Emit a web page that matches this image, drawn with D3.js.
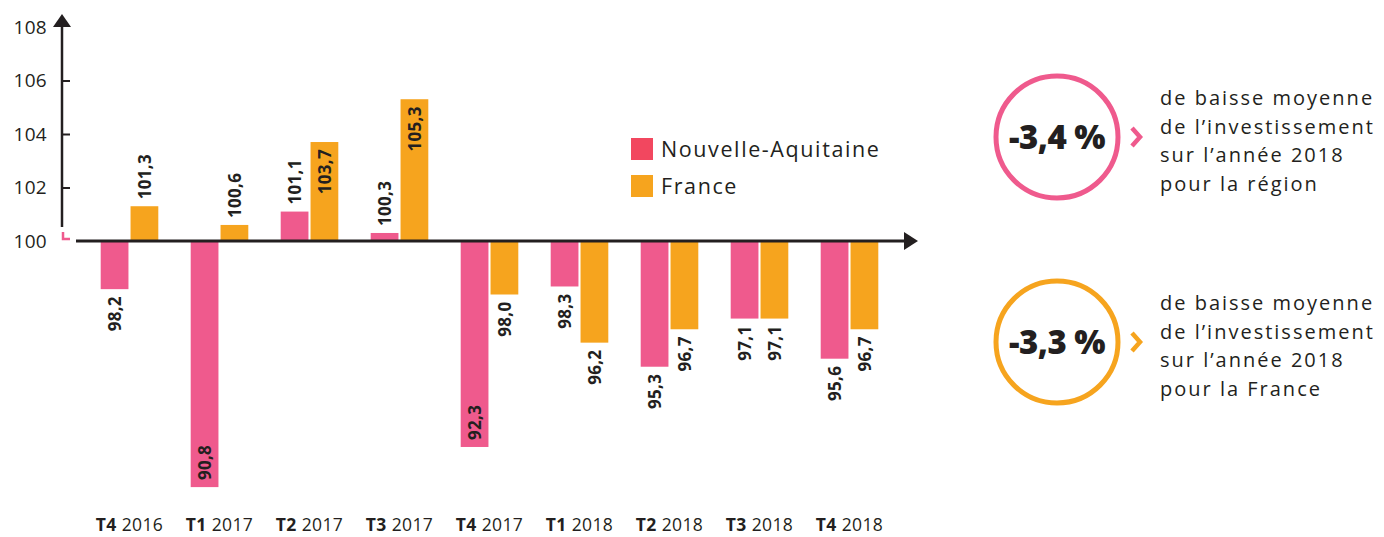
<!DOCTYPE html>
<html>
<head>
<meta http-equiv="content-type" content="text/html; charset=UTF8">
<title>Investissement</title>
<style type="text/css">
body { margin: 0; padding: 0; background: #fff; overflow: hidden; font-family: "Open Sans", Lato, sans-serif; }
</style>
</head>
<body>
<div id="chart"></div>
<script src="https://cdnjs.cloudflare.com/ajax/libs/d3/7.8.5/d3.min.js"></script>
<script>
// quarters and their year
var quarters = ["T4", "T1", "T2", "T3", "T4", "T1", "T2", "T3", "T4"];
var years = ["2016", "2017", "2017", "2017", "2017", "2018", "2018", "2018", "2018"];
// index values (base 100)
var nouvelleAquitaine = [98.2, 90.8, 101.1, 100.3, 92.3, 98.3, 95.3, 97.1, 95.6];
var france = [101.3, 100.6, 103.7, 105.3, 98.0, 96.2, 96.7, 97.1, 96.7];
var seriesNames = ["Nouvelle-Aquitaine", "France"];
var yTicks = [100, 102, 104, 106, 108];
// summary panel
var summaryValues = ["-3,4 %", "-3,3 %"];
var summaryLines = [
    ["de baisse moyenne", "de l\u2019investissement", "sur l\u2019ann\u00e9e 2018", "pour la r\u00e9gion"],
    ["de baisse moyenne", "de l\u2019investissement", "sur l\u2019ann\u00e9e 2018", "pour la France"]
];

var pink = "#ef5a8d", orange = "#f6a41e", legendPink = "#f2475f", ink = "#231f20";
var W = 1384, H = 537;

var svg = d3.select("#chart").append("svg")
    .attr("width", W).attr("height", H);

var y = d3.scaleLinear().domain([100, 108]).range([241, 27]);
var x0 = d3.scaleBand().domain(d3.range(quarters.length)).range([84.5, 894.5]).paddingInner(0.36).paddingOuter(0.18);
var x1 = d3.scaleBand().domain([0, 1]).range([0, x0.bandwidth()]).paddingInner(0.07);

var fmt = function(v){ return d3.format(".1f")(v).replace(".", ","); };

// y axis ticks and labels
var yAxis = d3.axisLeft(y).tickValues(yTicks).tickSize(-8).tickPadding(15)
    .tickFormat(function(d){ return d; });
var gy = svg.append("g").attr("transform", "translate(62,0)").call(yAxis);
gy.select(".domain").remove();
gy.selectAll(".tick line").attr("stroke", ink).attr("stroke-width", 2)
    .attr("display", function(d){ return (d === 100 || d === 108) ? "none" : null; });
gy.selectAll(".tick text").attr("fill", ink).style("font-size", "19px")
    .style("font-family", "'Open Sans', sans-serif").style("letter-spacing", "0.3px");

// vertical axis line + arrow
svg.append("line").attr("x1", 62).attr("x2", 62).attr("y1", y(100) - 14).attr("y2", y(108))
    .attr("stroke", ink).attr("stroke-width", 2.5);
svg.append("path").attr("d", "M53," + (y(108)) + "L62," + (y(108) - 13) + "L71," + (y(108)) + "Z").attr("fill", ink);
// pink corner mark
svg.append("path").attr("d", "M63," + (y(100) - 9) + "V" + (y(100) - 2) + "H70")
    .attr("fill", "none").attr("stroke", pink).attr("stroke-width", 2.5);

// bars
var groups = svg.selectAll("g.grp").data(quarters).enter().append("g")
    .attr("class", "grp")
    .attr("transform", function(d, i){ return "translate(" + x0(i) + ",0)"; });

var colors = [pink, orange];
groups.each(function(d, i){
    var vals = [nouvelleAquitaine[i], france[i]];
    var g = d3.select(this);
    vals.forEach(function(v, s){
        var top = Math.min(y(v), y(100)), bot = Math.max(y(v), y(100));
        g.append("rect")
            .attr("x", x1(s)).attr("width", x1.bandwidth())
            .attr("y", top).attr("height", bot - top)
            .attr("fill", colors[s]);
        var up = v >= 100;
        var len = Math.abs(y(v) - y(100));
        var inside = up ? len > 80 : len > 160;
        var ay, anchor;
        if (up) { ay = inside ? y(v) + 7 : y(v) - 7; anchor = inside ? "end" : "start"; }
        else { ay = inside ? y(v) - 7 : y(v) + 7; anchor = inside ? "start" : "end"; }
        var cx = x1(s) + x1.bandwidth() / 2;
        g.append("text")
            .attr("transform", "translate(" + cx + "," + ay + ") rotate(-90)")
            .attr("text-anchor", anchor)
            .attr("dy", "0.36em")
            .attr("fill", ink)
            .style("font-size", "17px").style("font-weight", "bold")
            .style("letter-spacing", "0.3px")
            .text(fmt(v));
    });
});

// horizontal axis + arrow
svg.append("line").attr("x1", 76).attr("x2", 906).attr("y1", y(100)).attr("y2", y(100))
    .attr("stroke", ink).attr("stroke-width", 3);
svg.append("path").attr("d", "M904," + (y(100) - 9) + "L918," + y(100) + "L904," + (y(100) + 9) + "Z").attr("fill", ink);

// category labels
var xl = svg.selectAll("text.xl").data(quarters).enter().append("text")
    .attr("class", "xl")
    .attr("x", function(d, i){ return x0(i) + x0.bandwidth() / 2; })
    .attr("y", 531)
    .attr("text-anchor", "middle")
    .attr("fill", ink)
    .style("font-size", "17.5px").style("letter-spacing", "0.4px");
xl.append("tspan").style("font-weight", "bold").text(function(d){ return d + " "; });
xl.append("tspan").text(function(d, i){ return years[i]; });

// legend
var legend = svg.append("g").attr("transform", "translate(631,138)");
var legendColors = [legendPink, orange];
seriesNames.forEach(function(n, i){
    legend.append("rect").attr("x", 0).attr("y", i * 37).attr("width", 22).attr("height", 22).attr("fill", legendColors[i]);
    legend.append("text").attr("x", 30).attr("y", i * 37 + 19).attr("fill", ink)
        .style("font-size", "21.5px").style("letter-spacing", "1.6px").text(n);
});

// summary circles
var summary = svg.selectAll("g.sum").data(summaryValues).enter().append("g")
    .attr("class", "sum")
    .attr("transform", function(d, i){ return "translate(1057," + (137 + i * 205) + ")"; });
summary.append("circle").attr("r", 61).attr("fill", "none")
    .attr("stroke", function(d, i){ return colors[i]; }).attr("stroke-width", 5);
summary.append("text").attr("text-anchor", "middle").attr("dy", "0.36em")
    .attr("fill", ink).style("font-size", "33px").style("font-weight", "800")
    .style("letter-spacing", "-0.5px")
    .text(function(d){ return d; });
summary.append("path").attr("d", "M75,-9L83,0L75,9")
    .attr("fill", "none").attr("stroke", function(d, i){ return colors[i]; }).attr("stroke-width", 4.5);
summary.each(function(d, i){
    var t = d3.select(this).append("text").attr("fill", ink)
        .style("font-size", "20px").style("letter-spacing", "2px");
    summaryLines[i].forEach(function(line, k){
        t.append("tspan").attr("x", 103).attr("y", -32 + k * 28.7).text(line);
    });
});
</script>
</body>
</html>
